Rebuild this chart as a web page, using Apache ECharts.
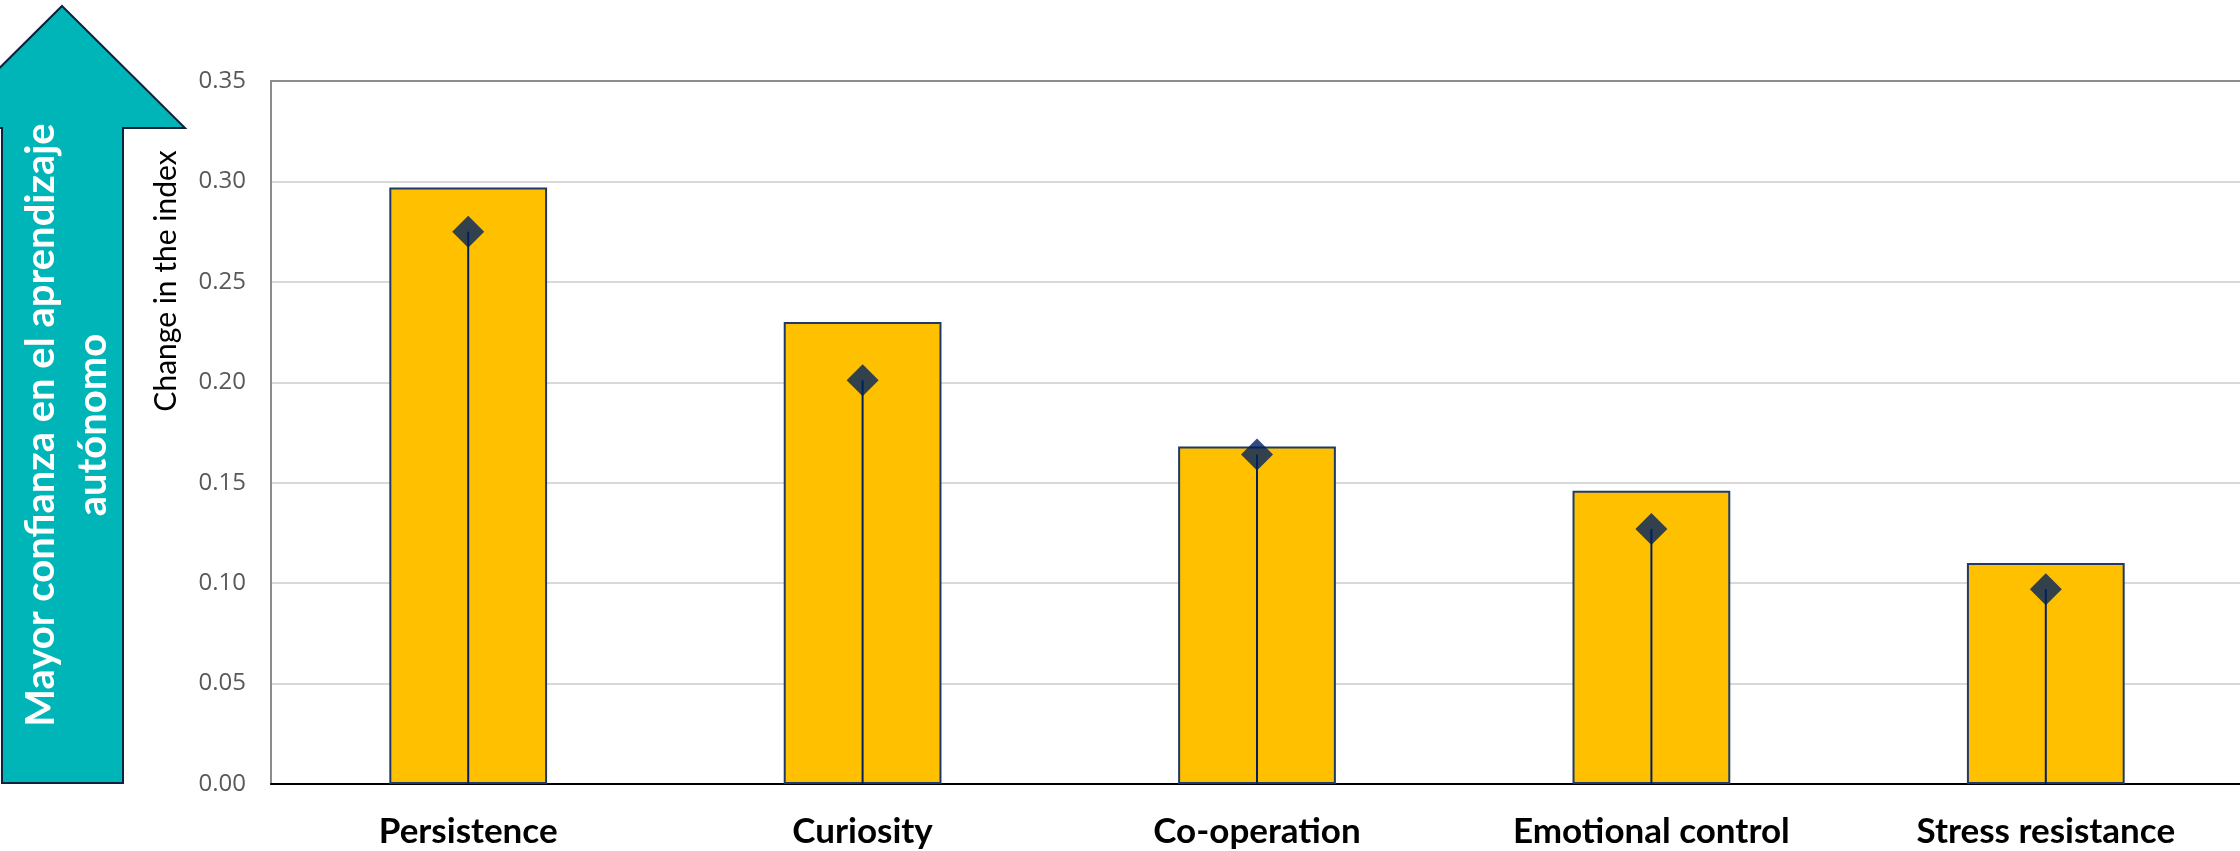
<!DOCTYPE html>
<html lang="en">
<head>
  <meta charset="UTF-8">
  <title>Change in the index</title>
  <style>
    html, body { margin: 0; padding: 0; background: #fff; }
    #chart { width: 2240px; height: 851px; }
  </style>
</head>
<body>
<div id="chart"></div>
<script src="https://cdn.jsdelivr.net/npm/echarts@6/dist/echarts.min.js"></script>
<script>
// data
const categories = ['Persistence', 'Curiosity', 'Co-operation', 'Emotional control', 'Stress resistance'];
const barValues = [0.297, 0.230, 0.168, 0.146, 0.110];
const pointValues = [0.275, 0.201, 0.164, 0.127, 0.097];
const yTicks = { min: 0, max: 0.35, interval: 0.05 };

const navy = '#002060';

let myChart = echarts.init(document.getElementById('chart'));
myChart.setOption({
  animation: false,
  grid: {
    left: 271, right: -3, top: 81, bottom: 67,
    outerBoundsMode: 'none',
    containLabel: false,
    show: true, borderColor: '#8c8c8c', borderWidth: 2
  },
  xAxis: {
    type: 'category',
    data: categories,
    axisLine: { lineStyle: { color: '#000', width: 2 } },
    axisTick: { show: false },
    axisLabel: {
      margin: 30,
      fontFamily: 'Lato',
      fontWeight: 'bold',
      fontSize: 35,
      color: '#000'
    }
  },
  yAxis: {
    type: 'value',
    min: yTicks.min, max: yTicks.max, interval: yTicks.interval,
    axisLine: { show: true, lineStyle: { color: '#8c8c8c', width: 2 } },
    axisTick: { show: false },
    axisLabel: {
      margin: 25,
      fontFamily: 'Open Sans',
      fontSize: 24,
      color: '#595959',
      formatter: v => v.toFixed(2)
    },
    splitLine: { showMaxLine: false, lineStyle: { color: '#d9d9d9', width: 2 } }
  },
  graphic: [
    {
      // teal arrow on the left
      type: 'polygon',
      z: 0,
      shape: {
        points: [[62, 6], [185, 128], [123, 128], [123, 783], [2, 783], [2, 128], [-61, 128]]
      },
      style: { fill: '#00b5b8', stroke: '#0d2240', lineWidth: 2 }
    },
    {
      type: 'text',
      x: 67, y: 425,
      rotation: Math.PI / 2,
      z: 1,
      style: {
        text: 'Mayor confianza en el aprendizaje\nautónomo',
        fill: '#fff',
        fontFamily: 'Lato',
        fontWeight: 'bold',
        fontSize: 40,
        lineHeight: 52,
        align: 'center',
        verticalAlign: 'middle'
      }
    },
    {
      // y axis title, sits in the upper half
      type: 'text',
      x: 166, y: 281,
      rotation: Math.PI / 2,
      style: {
        text: 'Change in the index',
        fill: '#000',
        fontFamily: 'Lato',
        fontSize: 30,
        align: 'center',
        verticalAlign: 'middle'
      }
    }
  ],
  series: [
    {
      type: 'bar',
      data: barValues,
      barWidth: '40%',
      itemStyle: { color: '#ffc000', borderColor: '#1f3a68', borderWidth: 2 }
    },
    {
      type: 'custom',
      data: pointValues.map((v, i) => [i, v]),
      encode: { x: 0, y: 1 },
      z: 3,
      renderItem: (params, api) => {
        const top = api.coord([api.value(0), api.value(1)]);
        const base = api.coord([api.value(0), 0]);
        return {
          type: 'line',
          shape: { x1: top[0], y1: top[1], x2: base[0], y2: base[1] },
          style: { stroke: navy, lineWidth: 2 }
        };
      }
    },
    {
      type: 'scatter',
      data: pointValues,
      symbol: 'diamond',
      symbolSize: 32,
      z: 4,
      itemStyle: { color: navy }
    }
  ]
});
</script>
</body>
</html>
